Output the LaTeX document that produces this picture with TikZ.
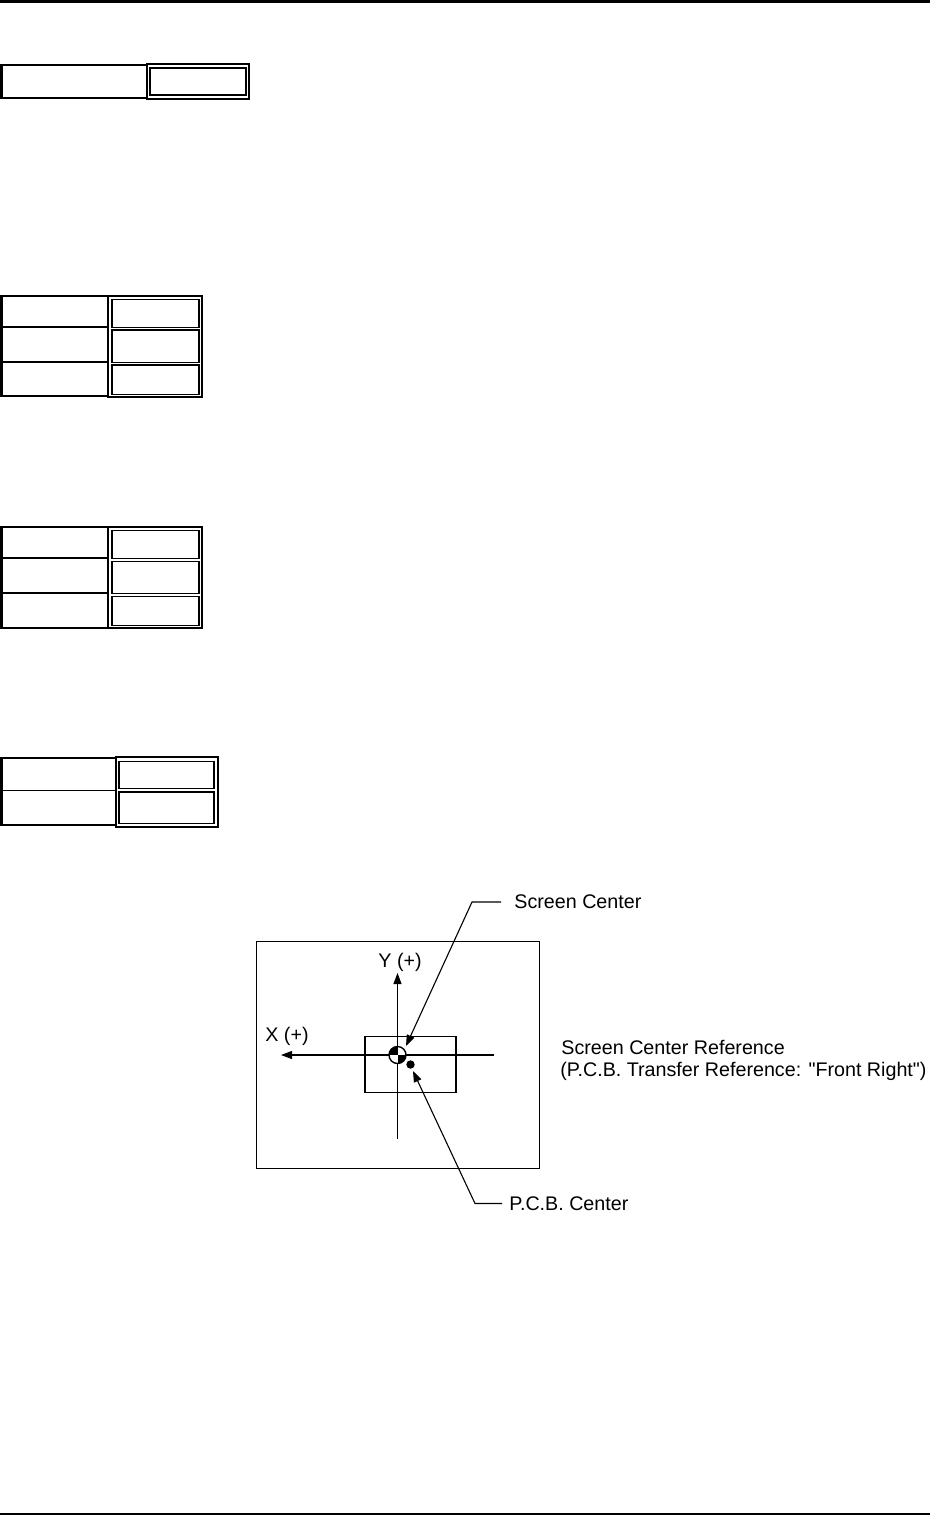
\documentclass[tikz,border=0pt]{standalone}
\usepackage{fontspec}
\setmainfont{Liberation Sans}
\usetikzlibrary{arrows.meta}
\begin{document}
\begin{tikzpicture}[x=0.5pt,y=-0.5pt,
  lbl/.style={inner sep=0pt,font=\fontsize{9.85}{12}\selectfont},
  rule/.style={line width=1.3pt},
  leftcol/.style={line width=1pt},
  leftedge/.style={line width=1.5pt},
  outerbox/.style={line width=0.55pt},
  innerbox/.style={line width=0.65pt},
  thin/.style={line width=0.55pt},
  tip/.style={-{Triangle[length=5.5pt,width=4pt]}}]
\useasboundingbox (0,0) rectangle (930,1516);
% page rules
\draw[rule] (0,1.3) -- (930,1.3);
\draw[rule] (0,1514) -- (930,1514);
% table 1
\draw[leftcol] (0.8,65) rectangle (147,97.5);
\draw[leftedge] (1.5,65) -- (1.5,97.5);
\draw[outerbox] (147,64) rectangle (249,99);
\draw[innerbox] (150,68) rectangle (246,95);
% table 2
\draw[leftcol] (0.8,296) rectangle (108,396);
\draw[leftedge] (1.5,296) -- (1.5,396);
\draw[leftcol] (0,327) -- (108,327);
\draw[leftcol] (0,361.7) -- (108,361.7);
\draw[outerbox] (108,296) rectangle (202,397);
\draw[innerbox] (112,299.3) rectangle (199,327.3);
\draw[innerbox] (112,330) rectangle (199,362.3);
\draw[innerbox] (112,365) rectangle (199,394.3);
% table 3
\draw[leftcol] (0.8,527.3) rectangle (108,627.7);
\draw[leftedge] (1.5,527.3) -- (1.5,627.7);
\draw[leftcol] (0,557.7) -- (108,557.7);
\draw[leftcol] (0,592.7) -- (108,592.7);
\draw[outerbox] (108,527) rectangle (202,628);
\draw[innerbox] (112,530.3) rectangle (199,558.7);
\draw[innerbox] (112,561.3) rectangle (199,593.7);
\draw[innerbox] (112,596.3) rectangle (199,625.3);
% table 4
\draw[leftcol] (0.8,758.3) rectangle (116,825.3);
\draw[leftedge] (1.5,758.3) -- (1.5,825.3);
\draw[thin] (0,790.3) -- (116,790.3);
\draw[outerbox] (116,757) rectangle (218,827);
\draw[innerbox] (119,761.3) rectangle (214,788.7);
\draw[innerbox] (119,792) rectangle (214,823.3);
% diagram
\draw[thin] (256.5,941.5) rectangle (539.5,1168.5);
\draw[thin] (365,1036.5) rectangle (456,1092.5);
\coordinate (xr) at (494,1055);
\coordinate (xl) at (281,1055);
\coordinate (yb) at (397.5,1139);
\coordinate (yt) at (397.5,973);
\draw[thin,tip] (xr) -- (xl);
\draw[thin,tip] (yb) -- (yt);
% screen center symbol
\coordinate (sc) at (397.5,1055);
\fill[white] (sc) circle (8.5);
\begin{scope}
  \clip (sc) circle (8.5);
  \fill (sc) rectangle ++(-10,-10);
  \fill (sc) rectangle ++(10,10);
\end{scope}
\draw[line width=0.7pt] (sc) circle (8.5);
% pcb center dot
\coordinate (pc) at (410.5,1064.5);
\fill (pc) circle (4.2);
% labels
\node[lbl,anchor=base west] (ylab) at (378,967) {Y (+)};
\node[lbl,anchor=base west] (xlab) at (265,1041.5) {X (+)};
\node[lbl,anchor=west] (sclab) at (514,902) {Screen Center};
\node[lbl,anchor=west] (pclab) at (509,1203.5) {P.C.B. Center};
\node[lbl,anchor=base west] (ref1) at (561,1054) {Screen Center Reference};
\node[lbl,anchor=base west] (ref2) at (560,1076) {(P.C.B. Transfer Reference: \textquotedbl Front Right\textquotedbl)};
% leaders
\coordinate (sck) at (472,902);
\coordinate (sctip) at (406,1046);
\coordinate (pck) at (475,1203.5);
\coordinate (pctip) at (413,1071);
\draw[thin,tip] ([xshift=-6.5pt]sclab.west) -- (sck) -- (sctip);
\draw[thin,tip] ([xshift=-3.5pt]pclab.west) -- (pck) -- (pctip);
\end{tikzpicture}
\end{document}
